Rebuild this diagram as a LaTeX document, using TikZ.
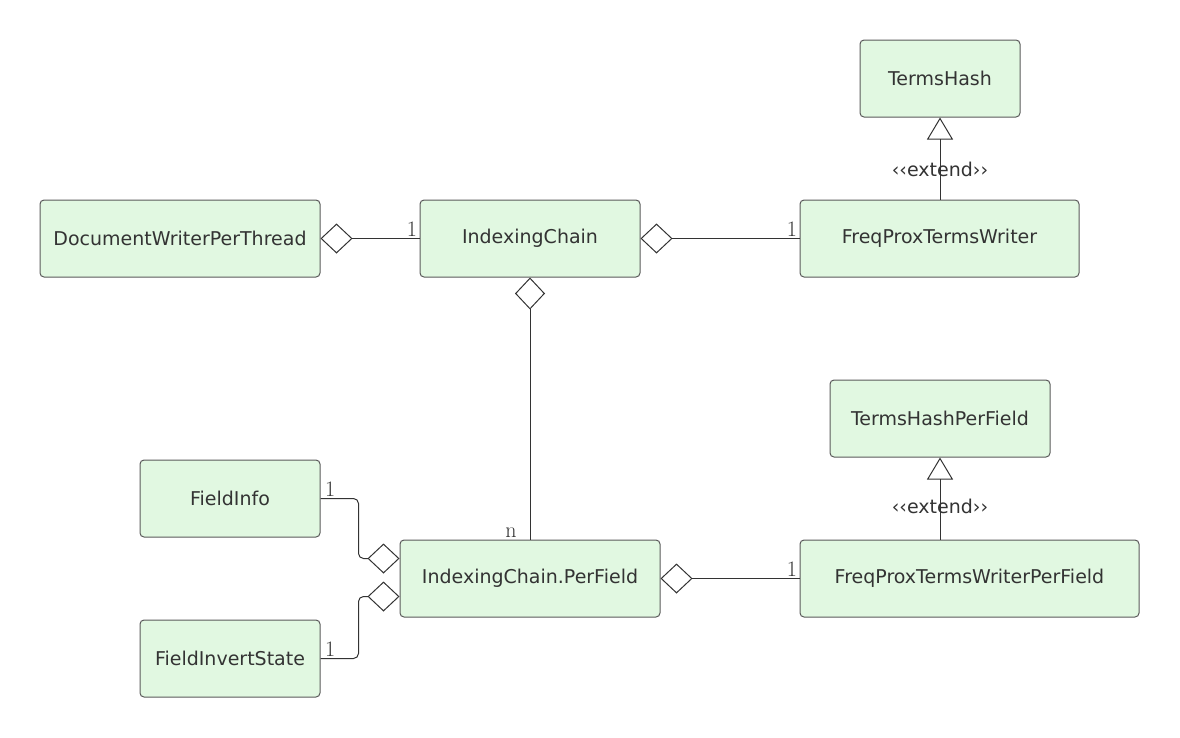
\documentclass[tikz,border=0pt]{standalone}
\usepackage{fontspec}
\newfontfamily\boxfont{DejaVu Sans}
\usetikzlibrary{arrows.meta}
\definecolor{boxfill}{RGB}{225,248,225}
\definecolor{boxborder}{RGB}{90,90,90}
\definecolor{lin}{RGB}{51,51,51}
\definecolor{txt}{RGB}{51,51,51}
\begin{document}
\begin{tikzpicture}[x=1pt,y=-1pt,
  cls/.style={draw=boxborder, fill=boxfill, rounded corners=4pt, line width=1pt,
    minimum height=77pt, inner sep=0pt, text=txt, font=\boxfont\fontsize{19}{22}\selectfont},
  link/.style={draw=lin, line width=1pt},
  agg/.style={link, {Diamond[open,length=32pt,width=30pt,line width=1pt]}-},
  ext/.style={link, -{Triangle[open,length=22pt,width=26pt,line width=1pt]}},
  mult/.style={font=\fontsize{22}{24}\selectfont, text=txt, inner sep=2pt},
  stereo/.style={font=\boxfont\fontsize{19}{22}\selectfont, text=txt, inner sep=0pt}
  ]
\useasboundingbox (0,0) rectangle (1180,737);
\node[cls, minimum width=280pt] (dw) at (180,238.5) {DocumentWriterPerThread};
\node[cls, minimum width=220pt] (ic) at (530,238.5) {IndexingChain};
\node[cls, minimum width=279pt] (fw) at (939.5,238.5) {FreqProxTermsWriter};
\node[cls, minimum width=160pt] (th) at (940,78.5) {TermsHash};
\node[cls, minimum width=220pt] (thp) at (940,418.5) {TermsHashPerField};
\node[cls, minimum width=339pt] (fwp) at (969.5,578.5) {FreqProxTermsWriterPerField};
\node[cls, minimum width=260pt] (pf) at (530,578.5) {IndexingChain.PerField};
\node[cls, minimum width=180pt] (fi) at (230,498.5) {FieldInfo};
\node[cls, minimum width=180pt] (fs) at (230,658.5) {FieldInvertState};

\draw[agg] (dw.east) -- node[mult, pos=1, anchor=south east] {1} (ic.west);
\draw[agg] (ic.east) -- node[mult, pos=1, anchor=south east] {1} (fw.west);
\draw[agg] (ic.south) -- node[mult, pos=1, anchor=south east, xshift=-11pt] {n} (pf.north);
\draw[agg] (pf.east) -- node[mult, pos=1, anchor=south east] {1} (fwp.west);
\draw[ext] (fw.north -| th.south) -- node[stereo, pos=0.37] {‹‹extend››} (th.south);
\draw[ext] (fwp.north -| thp.south) -- node[stereo, pos=0.4] {‹‹extend››} (thp.south);
\draw[agg, rounded corners=5pt] ([yshift=20pt]pf.west) -- ++(-41,0) |- node[mult, pos=1, anchor=south west, xshift=2pt] {1} (fi.east);
\draw[agg, rounded corners=5pt] ([yshift=-18pt]pf.west) -- ++(-41,0) |- node[mult, pos=1, anchor=south west, xshift=2pt] {1} (fs.east);
\end{tikzpicture}
\end{document}
